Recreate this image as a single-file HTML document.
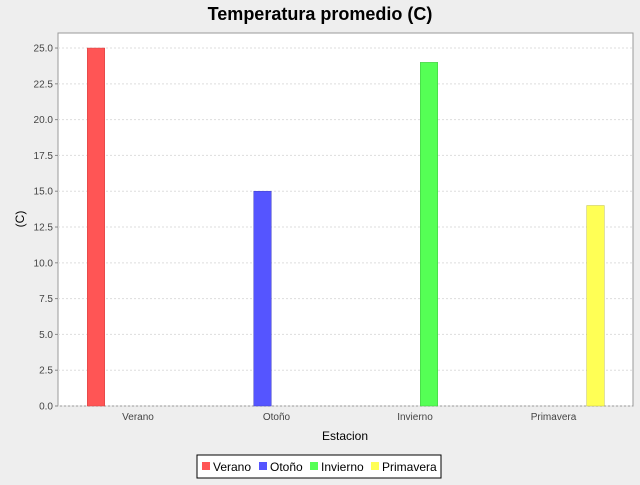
<!DOCTYPE html>
<html><head><meta charset="utf-8"><style>
body{margin:0;width:640px;height:480px;background:#eeeeee;overflow:hidden;font-family:"Liberation Sans",sans-serif}
</style></head><body>
<svg id="chart" width="640" height="480" xmlns="http://www.w3.org/2000/svg">
<text x="320" y="20" text-anchor="middle" font-size="18" font-weight="bold" fill="#000">Temperatura promedio (C)</text>
<rect x="58" y="33" width="575" height="373" fill="#ffffff" stroke="#999"/>
<g id="grid"></g><g id="bars"></g><g id="axes"></g>
<text transform="translate(24,219) rotate(-90)" text-anchor="middle" font-size="12">(C)</text>
<text x="345" y="440" text-anchor="middle" font-size="12">Estacion</text>
<g>
<rect x="197" y="455" width="244" height="23" fill="#fff" stroke="#000"/>
<g id="legend"></g>
</g>
</svg>
<script>
const categories=["Verano","Otoño","Invierno","Primavera"];
const seriesNames=["Verano","Otoño","Invierno","Primavera"];
const values=[25,15,24,14];
const colors=["#ff5555","#5555ff","#55ff55","#ffff55"];
const strokes=["#d04040","#4040c0","#40c040","#c0c040"];
const yTicks=[0,2.5,5,7.5,10,12.5,15,17.5,20,22.5,25];
const ns="http://www.w3.org/2000/svg";
const yMax=26.05, pTop=33, pBottom=406, pLeft=58, pRight=633;
function yScale(v){return pBottom-(v/yMax)*(pBottom-pTop);}
function catCenter(i){return 138+i*138.5;}
function mk(t,a,p){const e=document.createElementNS(ns,t);for(const k in a)e.setAttribute(k,a[k]);p.appendChild(e);return e;}
const grid=document.getElementById('grid'),axes=document.getElementById('axes'),bars=document.getElementById('bars'),leg=document.getElementById('legend');
yTicks.forEach(t=>{
 const g=mk('line',{x1:pLeft,x2:pRight,y1:yScale(t),y2:yScale(t),stroke:'#dddddd','stroke-dasharray':'2,2'},grid);
 
 
 mk('line',{x1:pLeft-3,x2:pLeft,y1:yScale(t),y2:yScale(t),stroke:'#888'},axes);
 const l=mk('text',{x:pLeft-5,y:yScale(t)+3.5,'text-anchor':'end','font-size':'10',fill:'#444'},axes);
 l.textContent=t.toFixed(1);
 
 
});
categories.forEach((c,i)=>{
 const l=mk('text',{x:catCenter(i),y:420,'text-anchor':'middle','font-size':'10',fill:'#444'},axes);
 l.textContent=c;
 
 
 const cx=catCenter(i)+(i-1.5)*28;
 const b=mk('rect',{x:cx-8.75,y:yScale(values[i]),width:17.5,height:pBottom-yScale(values[i]),fill:colors[i],stroke:strokes[i],'stroke-width':0.5},bars);
 
 
});
const lx=[202,259,310,371];
seriesNames.forEach((s,i)=>{
 const r=mk('rect',{x:lx[i],y:462,width:8,height:8,fill:colors[i]},leg);
 
 
 const t=mk('text',{x:lx[i]+11,y:471,'font-size':'12'},leg);
 t.textContent=s;
 
 
});
</script>
</body></html>
